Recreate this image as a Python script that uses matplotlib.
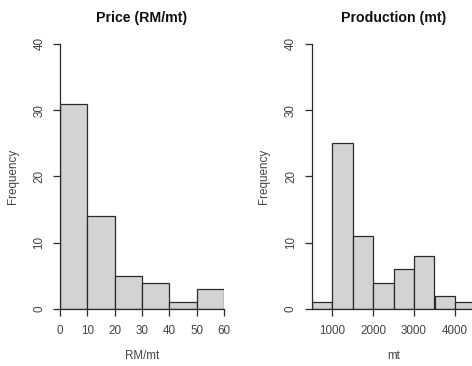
import numpy as np
import matplotlib
matplotlib.use("Agg")
import matplotlib.pyplot as plt

plt.rcParams['font.family'] = ['Liberation Sans', 'DejaVu Sans']

# Price histogram (RM/mt)
price_edges = [0, 10, 20, 30, 40, 50, 60]
price_counts = [31, 14, 5, 4, 1, 3]
price_xticks = [0, 10, 20, 30, 40, 50, 60]

# Production histogram (mt)
prod_edges = [500, 1000, 1500, 2000, 2500, 3000, 3500, 4000, 4500]
prod_counts = [1, 25, 11, 4, 6, 8, 2, 1]
prod_xticks = [1000, 2000, 3000, 4000]

yticks = [0, 10, 20, 30, 40]

W, H = 472, 366
fig = plt.figure(figsize=(W / 100, H / 100), dpi=100)


def px_axes(x0, x1, y_top, y_bottom):
    return fig.add_axes([x0 / W, (H - y_bottom) / H, (x1 - x0) / W, (y_bottom - y_top) / H])


def draw_hist(ax, edges, counts, xticks, title, xlabel, xlim):
    edges = np.asarray(edges, dtype=float)
    ax.bar(edges[:-1], counts, width=np.diff(edges), align='edge',
           color='#D3D3D3', edgecolor='#2a2a2a', linewidth=0.9, zorder=2)
    ax.set_xlim(*xlim)
    ax.set_ylim(0, 40)
    ax.set_yticks(yticks)
    ax.set_xticks(xticks)
    for s in ('top', 'right'):
        ax.spines[s].set_visible(False)
    for s in ('left', 'bottom'):
        ax.spines[s].set_color('#2a2a2a')
        ax.spines[s].set_linewidth(0.9)
    ax.tick_params(axis='both', direction='out', length=5, width=0.9,
                   color='#2a2a2a', labelcolor='#444444', labelsize=8.4)
    ax.tick_params(axis='x', pad=6.5)
    ax.tick_params(axis='y', pad=5.5, labelrotation=90)
    for lbl in ax.get_yticklabels():
        lbl.set_va('center')
    ax.set_title(title, fontsize=10.2, fontweight='bold', pad=15.8, color='#111111')
    ax.set_xlabel(xlabel, fontsize=8.4, color='#444444', labelpad=9.6)
    ax.set_ylabel('Frequency', fontsize=8.4, color='#444444', labelpad=10.5)
    ax.set_facecolor('white')


ax1 = px_axes(60, 224, 44, 309)
draw_hist(ax1, price_edges, price_counts, price_xticks, 'Price (RM/mt)', 'RM/mt', (0, 60))

ax2 = px_axes(311.5, 475.5, 44, 309)
draw_hist(ax2, prod_edges, prod_counts, prod_xticks, 'Production (mt)', 'mt', (500, 4500))

fig.savefig('out.png', dpi=100, facecolor='white')
